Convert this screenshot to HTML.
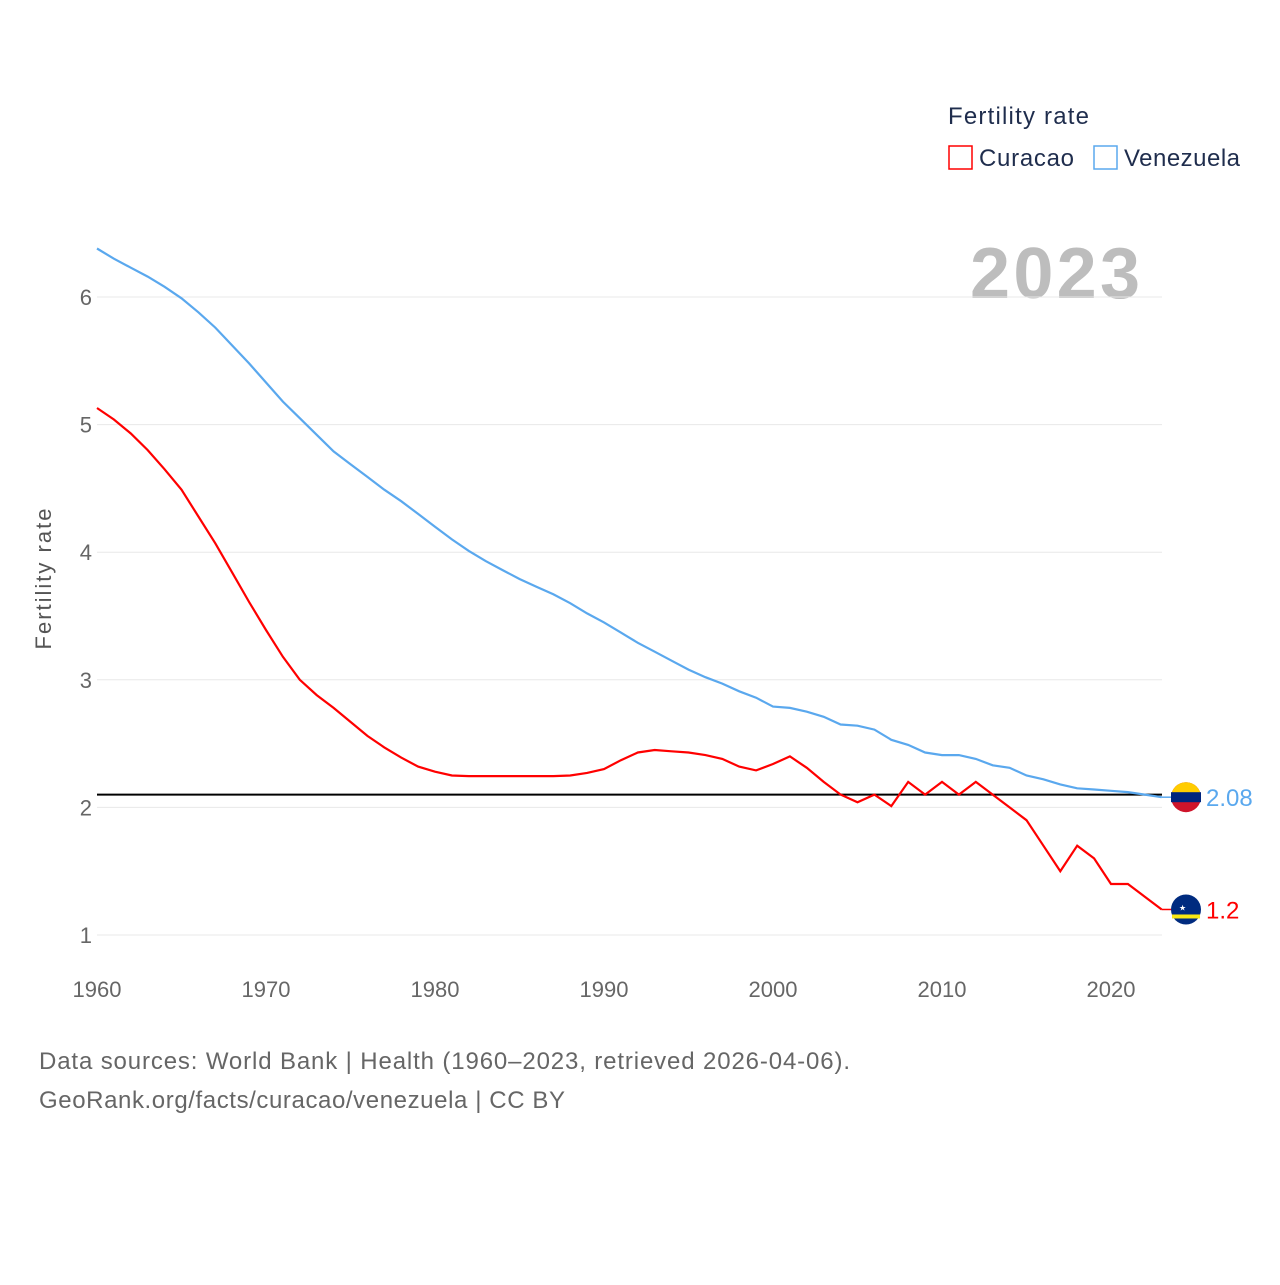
<!DOCTYPE html>
<html><head><meta charset="utf-8"><style>
body{margin:0;background:#fff;font-family:"Liberation Sans",sans-serif}
svg text{font-family:"Liberation Sans",sans-serif}
</style></head><body>
<svg width="1280" height="1280" viewBox="0 0 1280 1280">
<text x="948" y="124" font-size="24" fill="#1f2d4d" textLength="141">Fertility rate</text>
<g><rect x="949" y="146" width="23" height="23" fill="none" stroke="#ff0000" stroke-width="1.5"/><text x="979" y="166" font-size="24" fill="#1f2d4d" textLength="95">Curacao</text></g>
<g><rect x="1094" y="146" width="23" height="23" fill="none" stroke="#5aa8ee" stroke-width="1.5"/><text x="1124" y="166" font-size="24" fill="#1f2d4d" textLength="116">Venezuela</text></g>
<text x="970" y="298" font-size="72" font-weight="bold" fill="#bdbdbd" textLength="170">2023</text>
<text transform="translate(51,579) rotate(-90)" font-size="22" fill="#555" text-anchor="middle" textLength="141">Fertility rate</text>
<g id="grid"></g><g id="yticks"></g><g id="xticks"></g>
<line id="refline" stroke="#000" stroke-width="2"/>
<path id="ven" fill="none" stroke="#5aa8ee" stroke-width="2.2"/>
<path id="cur" fill="none" stroke="#ff0000" stroke-width="2.2"/>
<g id="ends"></g>
<text x="39" y="1069" font-size="24" fill="#666" textLength="811">Data sources: World Bank | Health (1960–2023, retrieved 2026-04-06).</text>
<text x="39" y="1108" font-size="24" fill="#666" textLength="526">GeoRank.org/facts/curacao/venezuela | CC BY</text>
</svg>
<script>
const years=[];for(let y=1960;y<=2023;y++)years.push(y);
const curacao=[5.13,5.04,4.93,4.80,4.65,4.49,4.28,4.07,3.84,3.61,3.39,3.18,3.00,2.88,2.78,2.67,2.56,2.47,2.39,2.32,2.28,2.25,2.245,2.245,2.245,2.245,2.245,2.245,2.25,2.27,2.30,2.37,2.43,2.45,2.44,2.43,2.41,2.38,2.32,2.29,2.34,2.40,2.31,2.20,2.10,2.04,2.10,2.01,2.20,2.10,2.20,2.10,2.20,2.10,2.00,1.90,1.70,1.50,1.70,1.60,1.40,1.40,1.30,1.20];
const venezuela=[6.38,6.30,6.23,6.16,6.08,5.99,5.88,5.76,5.62,5.48,5.33,5.18,5.05,4.92,4.79,4.69,4.59,4.49,4.40,4.30,4.20,4.10,4.01,3.93,3.86,3.79,3.73,3.67,3.60,3.52,3.45,3.37,3.29,3.22,3.15,3.08,3.02,2.97,2.91,2.86,2.79,2.78,2.75,2.71,2.65,2.64,2.61,2.53,2.49,2.43,2.41,2.41,2.38,2.33,2.31,2.25,2.22,2.18,2.15,2.14,2.13,2.12,2.10,2.08];
const yTicks=[1,2,3,4,5,6];
const xTicks=[1960,1970,1980,1990,2000,2010,2020];
const replacement=[2.1];
const NS="http://www.w3.org/2000/svg";
const X=y=>97+(y-1960)*(1111-97)/60;
const Y=v=>935-(v-1)*127.6;
function mk(t,a,p){const e=document.createElementNS(NS,t);for(const k in a)e.setAttribute(k,a[k]);document.getElementById(p).appendChild(e);return e;}
yTicks.forEach(v=>{
 const l=mk('line',{x1:97,x2:1162,y1:Y(v),y2:Y(v),stroke:'#e8e8e8','stroke-width':1},'grid');
 
 
 const t=mk('text',{x:92,y:Y(v)+8,'font-size':22,fill:'#666','text-anchor':'end'},'yticks');t.textContent=v;
 
 
});
xTicks.forEach(v=>{
 const t=mk('text',{x:X(v),y:997,'font-size':22,fill:'#666','text-anchor':'middle'},'xticks');t.textContent=v;
 
 
});
const r=document.getElementById('refline');
r.setAttribute('x1',97);r.setAttribute('x2',1162);r.setAttribute('y1',Y(replacement[0]));r.setAttribute('y2',Y(replacement[0]));
const path=a=>a.map((v,i)=>(i?'L':'M')+X(years[i]).toFixed(1)+','+Y(v).toFixed(1)).join('');
document.getElementById('cur').setAttribute('d',path(curacao));
document.getElementById('ven').setAttribute('d',path(venezuela));
function end(vals,color,flag){
 const v=vals[vals.length-1],y=Y(v),x=X(2023);
 mk('line',{x1:x,x2:1176,y1:y,y2:y,stroke:color,'stroke-width':1.5},'ends');
 const g=mk('g',{},'ends');
 
 
 if(flag==='venezuela'){
  mk('circle',{cx:1186,cy:y,r:15,fill:'#cf142b'},'ends');
  mk('path',{d:`M1171,${y} A15,15 0 0 1 1201,${y} Z`,fill:'#ffcc00'},'ends');
  mk('rect',{x:1171,y:y-5,width:30,height:10,fill:'#00247d'},'ends');
 }else{
  mk('circle',{cx:1186,cy:y,r:15,fill:'#002b7f'},'ends');
  mk('rect',{x:1172,y:y+5,width:28,height:4,fill:'#f9e814'},'ends');
  mk('text',{x:1179,y:y+1,'font-size':8,fill:'#fff'},'ends').textContent='★';
 }
 const t=mk('text',{x:1206,y:y+9,'font-size':24,fill:color},'ends');t.textContent=v;
 
 
}
end(venezuela,'#5aa8ee','venezuela');
end(curacao,'#ff0000','curacao');
</script>
</body></html>
